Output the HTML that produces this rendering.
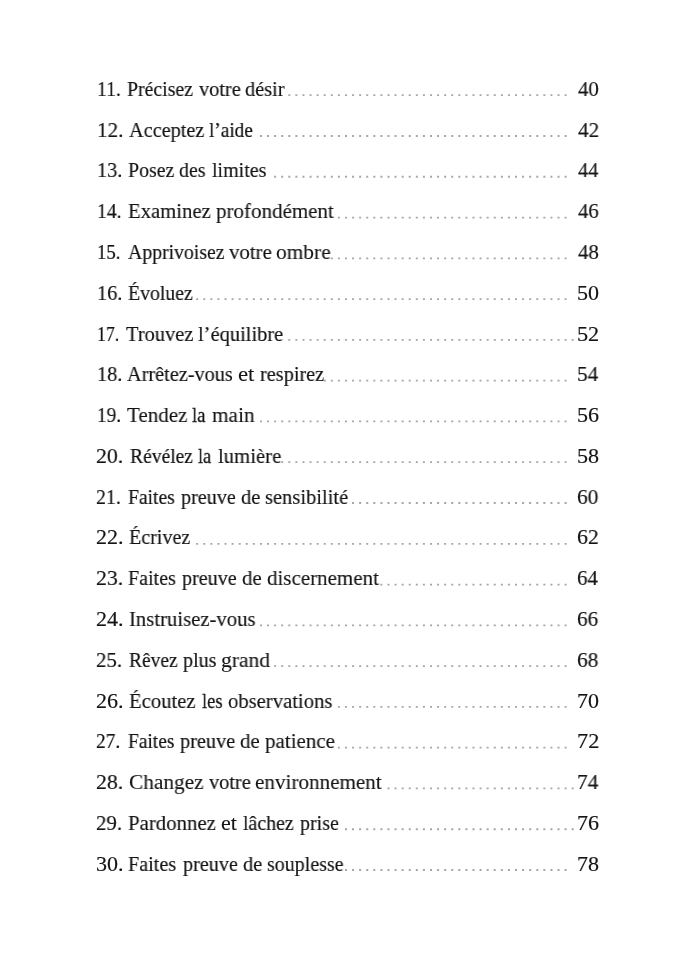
<!DOCTYPE html>
<html lang="fr"><head><meta charset="utf-8"><title>Table des matières</title>
<style>
html,body{margin:0;padding:0;background:#fff;}
body{width:700px;height:974px;position:relative;overflow:hidden;}
span{position:absolute;font-family:"Liberation Serif","DejaVu Serif",serif;font-size:22px;line-height:1;color:#141414;white-space:nowrap;transform-origin:0 0;-webkit-font-smoothing:antialiased;will-change:transform;-webkit-text-stroke:0.18px currentColor;}
svg{position:absolute;left:0;top:0;}

</style></head><body>

<span class="n" style="left:97.10px;top:77.90px;transform:scaleX(0.8927)">11.</span><span class="t" style="left:127.16px;top:77.90px;transform:scaleX(0.9001);-webkit-text-stroke-width:0.20px">Précisez</span><span class="t" style="left:198.90px;top:77.90px;transform:scaleX(0.9236)">votre</span><span class="t" style="left:245.36px;top:77.90px;transform:scaleX(0.9234)">désir</span><span class="p" style="left:577.92px;top:77.90px;transform:scaleX(0.9471)">40</span>
<span class="n" style="left:96.97px;top:118.68px;transform:scaleX(0.9628)">12.</span><span class="t" style="left:128.62px;top:118.68px;transform:scaleX(0.9210)">Acceptez</span><span class="t" style="left:209.15px;top:118.68px;transform:scaleX(0.8753);-webkit-text-stroke-width:0.23px">l’aide</span><span class="p" style="left:577.91px;top:118.68px;transform:scaleX(0.9657)">42</span>
<span class="n" style="left:97.05px;top:159.46px;transform:scaleX(0.9215)">13.</span><span class="t" style="left:127.86px;top:159.46px;transform:scaleX(0.9042)">Posez</span><span class="t" style="left:179.28px;top:159.46px;transform:scaleX(0.9061)">des</span><span class="t" style="left:212.24px;top:159.46px;transform:scaleX(0.9097)">limites</span><span class="p" style="left:577.93px;top:159.46px;transform:scaleX(0.9249)">44</span>
<span class="n" style="left:97.10px;top:200.24px;transform:scaleX(0.8926)">14.</span><span class="t" style="left:128.14px;top:200.24px;transform:scaleX(0.9401);-webkit-text-stroke-width:0.16px">Examinez</span><span class="t" style="left:216.31px;top:200.24px;transform:scaleX(0.9545);-webkit-text-stroke-width:0.14px">profondément</span><span class="p" style="left:577.92px;top:200.24px;transform:scaleX(0.9381)">46</span>
<span class="n" style="left:97.18px;top:241.02px;transform:scaleX(0.8512)">15.</span><span class="t" style="left:127.62px;top:241.02px;transform:scaleX(0.8978);-webkit-text-stroke-width:0.21px">Apprivoisez</span><span class="t" style="left:229.30px;top:241.02px;transform:scaleX(0.9461);-webkit-text-stroke-width:0.15px">votre</span><span class="t" style="left:276.32px;top:241.02px;transform:scaleX(0.9726);-webkit-text-stroke-width:0.12px">ombre</span><span class="p" style="left:577.92px;top:241.02px;transform:scaleX(0.9471)">48</span>
<span class="n" style="left:97.05px;top:281.80px;transform:scaleX(0.9215)">16.</span><span class="t" style="left:128.36px;top:281.80px;transform:scaleX(0.8984);-webkit-text-stroke-width:0.21px">Évoluez</span><span class="p" style="left:577.01px;top:281.80px;transform:scaleX(0.9899)">50</span>
<span class="n" style="left:97.26px;top:322.58px;transform:scaleX(0.8099)">17.</span><span class="t" style="left:125.63px;top:322.58px;transform:scaleX(0.9287)">Trouvez</span><span class="t" style="left:198.33px;top:322.58px;transform:scaleX(0.9304)">l’équilibre</span><span class="p" style="left:576.99px;top:322.58px;transform:scaleX(1.0103)">52</span>
<span class="n" style="left:97.05px;top:363.36px;transform:scaleX(0.9215)">18.</span><span class="t" style="left:127.42px;top:363.36px;transform:scaleX(0.9209)">Arrêtez-vous</span><span class="t" style="left:237.77px;top:363.36px;transform:scaleX(1.0336);-webkit-text-stroke-width:0.10px">et</span><span class="t" style="left:259.53px;top:363.36px;transform:scaleX(0.9227)">respirez</span><span class="p" style="left:577.04px;top:363.36px;transform:scaleX(0.9657)">54</span>
<span class="n" style="left:97.14px;top:404.14px;transform:scaleX(0.8760)">19.</span><span class="t" style="left:126.62px;top:404.14px;transform:scaleX(0.9550);-webkit-text-stroke-width:0.14px">Tendez</span><span class="t" style="left:192.36px;top:404.14px;transform:scaleX(0.8487);-webkit-text-stroke-width:0.27px">la</span><span class="t" style="left:211.62px;top:404.14px;transform:scaleX(0.9676);-webkit-text-stroke-width:0.12px">main</span><span class="p" style="left:577.03px;top:404.14px;transform:scaleX(0.9801)">56</span>
<span class="n" style="left:96.31px;top:444.92px;transform:scaleX(0.9880)">20.</span><span class="t" style="left:129.67px;top:444.92px;transform:scaleX(0.8894);-webkit-text-stroke-width:0.22px">Révélez</span><span class="t" style="left:198.07px;top:444.92px;transform:scaleX(0.8289);-webkit-text-stroke-width:0.29px">la</span><span class="t" style="left:217.52px;top:444.92px;transform:scaleX(0.9424);-webkit-text-stroke-width:0.15px">lumière</span><span class="p" style="left:577.01px;top:444.92px;transform:scaleX(0.9899)">58</span>
<span class="n" style="left:96.40px;top:485.70px;transform:scaleX(0.9044)">21.</span><span class="t" style="left:127.87px;top:485.70px;transform:scaleX(0.8906);-webkit-text-stroke-width:0.22px">Faites</span><span class="t" style="left:180.82px;top:485.70px;transform:scaleX(0.9167)">preuve</span><span class="t" style="left:240.65px;top:485.70px;transform:scaleX(0.9323)">de</span><span class="t" style="left:265.16px;top:485.70px;transform:scaleX(0.9326)">sensibilité</span><span class="p" style="left:577.43px;top:485.70px;transform:scaleX(0.9704)">60</span>
<span class="n" style="left:96.30px;top:526.48px;transform:scaleX(1.0000)">22.</span><span class="t" style="left:129.35px;top:526.48px;transform:scaleX(0.9106)">Écrivez</span><span class="p" style="left:577.41px;top:526.48px;transform:scaleX(0.9899)">62</span>
<span class="n" style="left:96.31px;top:567.26px;transform:scaleX(0.9880)">23.</span><span class="t" style="left:128.25px;top:567.26px;transform:scaleX(0.9102)">Faites</span><span class="t" style="left:182.33px;top:567.26px;transform:scaleX(0.9150)">preuve</span><span class="t" style="left:242.14px;top:567.26px;transform:scaleX(0.9479);-webkit-text-stroke-width:0.15px">de</span><span class="t" style="left:267.14px;top:567.26px;transform:scaleX(0.9536);-webkit-text-stroke-width:0.14px">discernement</span><span class="p" style="left:577.45px;top:567.26px;transform:scaleX(0.9471)">64</span>
<span class="n" style="left:96.30px;top:608.04px;transform:scaleX(1.0000)">24.</span><span class="t" style="left:129.15px;top:608.04px;transform:scaleX(0.9420);-webkit-text-stroke-width:0.15px">Instruisez-vous</span><span class="p" style="left:577.44px;top:608.04px;transform:scaleX(0.9610)">66</span>
<span class="n" style="left:96.35px;top:648.82px;transform:scaleX(0.9482)">25.</span><span class="t" style="left:128.97px;top:648.82px;transform:scaleX(0.8829);-webkit-text-stroke-width:0.22px">Rêvez</span><span class="t" style="left:183.03px;top:648.82px;transform:scaleX(0.9157)">plus</span><span class="t" style="left:221.22px;top:648.82px;transform:scaleX(0.9816);-webkit-text-stroke-width:0.11px">grand</span><span class="p" style="left:577.43px;top:648.82px;transform:scaleX(0.9704)">68</span>
<span class="n" style="left:96.30px;top:689.60px;transform:scaleX(1.0000)">26.</span><span class="t" style="left:129.34px;top:689.60px;transform:scaleX(0.9397);-webkit-text-stroke-width:0.16px">Écoutez</span><span class="t" style="left:201.76px;top:689.60px;transform:scaleX(0.8405);-webkit-text-stroke-width:0.28px">les</span><span class="t" style="left:227.65px;top:689.60px;transform:scaleX(0.9380);-webkit-text-stroke-width:0.16px">observations</span><span class="p" style="left:576.91px;top:689.60px;transform:scaleX(0.9949)">70</span>
<span class="n" style="left:96.42px;top:730.38px;transform:scaleX(0.8805)">27.</span><span class="t" style="left:127.87px;top:730.38px;transform:scaleX(0.8828);-webkit-text-stroke-width:0.22px">Faites</span><span class="t" style="left:180.42px;top:730.38px;transform:scaleX(0.9235)">preuve</span><span class="t" style="left:240.34px;top:730.38px;transform:scaleX(0.9479);-webkit-text-stroke-width:0.15px">de</span><span class="t" style="left:265.11px;top:730.38px;transform:scaleX(0.9543);-webkit-text-stroke-width:0.14px">patience</span><span class="p" style="left:576.88px;top:730.38px;transform:scaleX(1.0155)">72</span>
<span class="n" style="left:96.31px;top:771.16px;transform:scaleX(0.9880)">28.</span><span class="t" style="left:128.63px;top:771.16px;transform:scaleX(0.9682);-webkit-text-stroke-width:0.12px">Changez</span><span class="t" style="left:208.90px;top:771.16px;transform:scaleX(0.9236)">votre</span><span class="t" style="left:255.24px;top:771.16px;transform:scaleX(0.9603);-webkit-text-stroke-width:0.13px">environnement</span><span class="p" style="left:576.94px;top:771.16px;transform:scaleX(0.9704)">74</span>
<span class="n" style="left:96.35px;top:811.94px;transform:scaleX(0.9482)">29.</span><span class="t" style="left:128.23px;top:811.94px;transform:scaleX(0.9477);-webkit-text-stroke-width:0.15px">Pardonnez</span><span class="t" style="left:221.10px;top:811.94px;transform:scaleX(1.0000);-webkit-text-stroke-width:0.10px">et</span><span class="t" style="left:243.34px;top:811.94px;transform:scaleX(0.9004);-webkit-text-stroke-width:0.20px">lâchez</span><span class="t" style="left:299.63px;top:811.94px;transform:scaleX(0.9089)">prise</span><span class="p" style="left:576.92px;top:811.94px;transform:scaleX(0.9850)">76</span>
<span class="n" style="left:96.31px;top:852.72px;transform:scaleX(0.9880)">30.</span><span class="t" style="left:128.25px;top:852.72px;transform:scaleX(0.9160)">Faites</span><span class="t" style="left:182.82px;top:852.72px;transform:scaleX(0.9184)">preuve</span><span class="t" style="left:242.86px;top:852.72px;transform:scaleX(0.9271)">de</span><span class="t" style="left:267.08px;top:852.72px;transform:scaleX(0.9081)">souplesse</span><span class="p" style="left:576.91px;top:852.72px;transform:scaleX(0.9949)">78</span>
<svg class="d" width="700" height="974" viewBox="0 0 700 974"><g stroke="#a6a6a6" stroke-width="1.8" stroke-dasharray="2.0 5.085">
<line x1="288.29" x2="566.60" y1="95.20" y2="95.20"/>
<line x1="259.95" x2="566.60" y1="135.98" y2="135.98"/>
<line x1="274.12" x2="566.60" y1="176.76" y2="176.76"/>
<line x1="337.88" x2="566.60" y1="217.54" y2="217.54"/>
<line x1="330.80" x2="566.60" y1="258.32" y2="258.32"/>
<line x1="196.18" x2="566.60" y1="299.10" y2="299.10"/>
<line x1="288.29" x2="573.69" y1="339.88" y2="339.88"/>
<line x1="323.71" x2="566.60" y1="380.66" y2="380.66"/>
<line x1="259.95" x2="566.60" y1="421.44" y2="421.44"/>
<line x1="281.20" x2="566.60" y1="462.22" y2="462.22"/>
<line x1="352.05" x2="566.60" y1="503.00" y2="503.00"/>
<line x1="196.18" x2="566.60" y1="543.78" y2="543.78"/>
<line x1="380.39" x2="566.60" y1="584.56" y2="584.56"/>
<line x1="259.95" x2="566.60" y1="625.34" y2="625.34"/>
<line x1="274.12" x2="566.60" y1="666.12" y2="666.12"/>
<line x1="337.88" x2="566.60" y1="706.90" y2="706.90"/>
<line x1="337.88" x2="566.60" y1="747.68" y2="747.68"/>
<line x1="387.48" x2="573.69" y1="788.46" y2="788.46"/>
<line x1="344.97" x2="573.69" y1="829.24" y2="829.24"/>
<line x1="344.97" x2="566.60" y1="870.02" y2="870.02"/>
</g></svg>
</body></html>
